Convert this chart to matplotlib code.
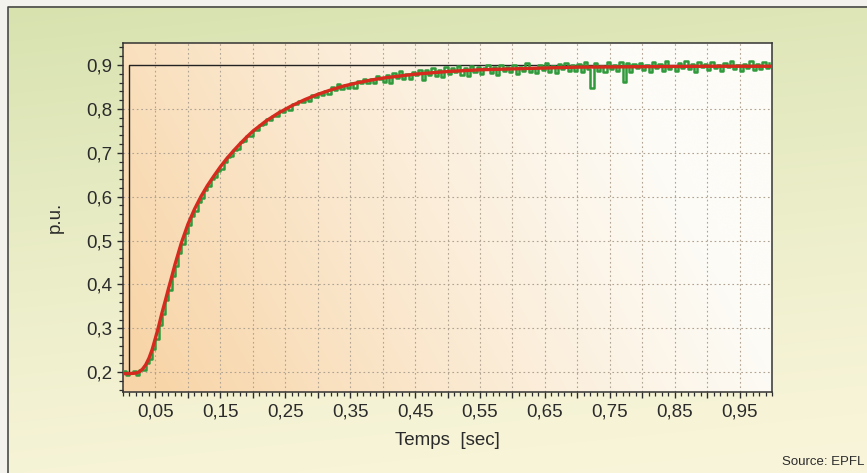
import numpy as np
import matplotlib
matplotlib.use("Agg")
import matplotlib.pyplot as plt
from matplotlib.ticker import MultipleLocator, FixedLocator, FixedFormatter

plt.rcParams["font.family"] = ["Liberation Sans", "DejaVu Sans"]

# --- data ---
# reference step (black)
step_t = [0.0, 0.01, 0.01, 1.0]
step_v = [0.2, 0.2, 0.9, 0.9]

# smoothed response (red)
red_t = [0.0, 0.01, 0.02, 0.025, 0.03, 0.035, 0.04, 0.045, 0.05, 0.055,
         0.06, 0.065, 0.07, 0.075, 0.08, 0.085, 0.09, 0.095, 0.10, 0.11,
         0.12, 0.13, 0.14, 0.15, 0.16, 0.17, 0.18, 0.19, 0.20, 0.22,
         0.24, 0.26, 0.28, 0.30, 0.32, 0.34, 0.36, 0.38, 0.40, 0.45,
         0.50, 0.55, 0.60, 0.65, 0.70, 0.80, 0.90, 1.00]
red_v = [0.197, 0.197, 0.198, 0.201, 0.207, 0.217, 0.232, 0.252, 0.278, 0.305,
         0.335, 0.362, 0.390, 0.417, 0.445, 0.470, 0.495, 0.516, 0.537, 0.571,
         0.600, 0.625, 0.647, 0.668, 0.687, 0.704, 0.720, 0.735, 0.749, 0.772,
         0.791, 0.807, 0.821, 0.833, 0.843, 0.852, 0.859, 0.865, 0.870, 0.879,
         0.885, 0.889, 0.891, 0.893, 0.895, 0.896, 0.897, 0.897]

# measured signal (green), one sample every 5 ms
green_dt = 0.005
green_v = [
    0.202, 0.193, 0.199, 0.203, 0.193, 0.205, 0.205, 0.220, 0.230, 0.254,
    0.275, 0.307, 0.332, 0.365, 0.388, 0.420, 0.443, 0.472, 0.492, 0.518,
    0.535, 0.557, 0.568, 0.587, 0.597, 0.616, 0.624, 0.640, 0.645, 0.659,
    0.664, 0.680, 0.690, 0.693, 0.706, 0.709, 0.724, 0.726, 0.738, 0.739,
    0.752, 0.751, 0.763, 0.765, 0.776, 0.774, 0.783, 0.783, 0.795, 0.793,
    0.802, 0.798, 0.810, 0.810, 0.818, 0.815, 0.823, 0.819, 0.831, 0.827,
    0.837, 0.831, 0.840, 0.834, 0.849, 0.842, 0.856, 0.845, 0.854, 0.848,
    0.860, 0.848, 0.863, 0.858, 0.869, 0.860, 0.868, 0.859, 0.874, 0.867,
    0.861, 0.876, 0.860, 0.881, 0.870, 0.886, 0.869, 0.880, 0.868, 0.884,
    0.877, 0.889, 0.866, 0.888, 0.877, 0.894, 0.875, 0.888, 0.873, 0.895,
    0.879, 0.893, 0.883, 0.898, 0.878, 0.892, 0.875, 0.898, 0.884, 0.896,
    0.879, 0.892, 0.900, 0.882, 0.896, 0.877, 0.899, 0.886, 0.895, 0.884,
    0.900, 0.880, 0.896, 0.886, 0.905, 0.884, 0.894, 0.882, 0.900, 0.889,
    0.904, 0.884, 0.898, 0.882, 0.902, 0.891, 0.904, 0.887, 0.899, 0.886,
    0.902, 0.885, 0.907, 0.890, 0.848, 0.904, 0.887, 0.898, 0.884, 0.906,
    0.890, 0.901, 0.887, 0.907, 0.861, 0.904, 0.885, 0.902, 0.893, 0.905,
    0.888, 0.900, 0.885, 0.906, 0.893, 0.903, 0.887, 0.908, 0.890, 0.898,
    0.887, 0.905, 0.893, 0.908, 0.890, 0.902, 0.885, 0.906, 0.895, 0.903,
    0.888, 0.907, 0.892, 0.900, 0.886, 0.905, 0.895, 0.909, 0.890, 0.901,
    0.887, 0.903, 0.894, 0.908, 0.889, 0.902, 0.891, 0.906, 0.893, 0.904,
]

x_ticks = [0.05, 0.10, 0.15, 0.20, 0.25, 0.30, 0.35, 0.40, 0.45, 0.50,
           0.55, 0.60, 0.65, 0.70, 0.75, 0.80, 0.85, 0.90, 0.95]
x_labels = ["0,05", "", "0,15", "", "0,25", "", "0,35", "", "0,45", "",
            "0,55", "", "0,65", "", "0,75", "", "0,85", "", "0,95"]
y_ticks = [0.2, 0.3, 0.4, 0.5, 0.6, 0.7, 0.8, 0.9]
y_labels = ["0,2", "0,3", "0,4", "0,5", "0,6", "0,7", "0,8", "0,9"]

TXT = "#2b2b2b"

fig = plt.figure(figsize=(8.67, 4.73), dpi=100)
fig.patch.set_facecolor("#f3f2ec")

# page background: green at the top fading to cream
bg = fig.add_axes([0, 0, 1, 1], zorder=-2)
bg.set_xlim(0, 1)
bg.set_ylim(0, 1)
bg.axis("off")
gx, gy = np.meshgrid(np.linspace(0, 1, 200), np.linspace(0, 1, 120))
f = np.clip(0.8 * gy + 0.15 * (1 - gx), 0, 1) ** 1.3
top = np.array([213, 225, 172]) / 255
bot = np.array([249, 245, 218]) / 255
img = bot[None, None, :] * (1 - f[..., None]) + top[None, None, :] * f[..., None]
fx0, fy1 = 8 / 867, 1 - 7 / 473
bg.imshow(img, extent=[fx0, 1, 0, fy1], origin="lower", aspect="auto",
          interpolation="bicubic")
bg.plot([fx0, fx0, 1], [0, fy1, fy1], color="#4a4a4a", lw=1.2)

ax = fig.add_axes([123 / 867, 1 - 392 / 473, 649 / 867, 349 / 473])
ax.set_xlim(0, 1.0)
ax.set_ylim(0.155, 0.95)

# plot area: peach on the left fading to white on the right
ax_x, ax_y = np.meshgrid(np.linspace(0, 1, 200), np.linspace(0, 1, 120))
g = np.clip(1.05 - (1.0 * ax_x + 0.3 * ax_y), 0, 1) ** 1.1
peach = np.array([248, 213, 168]) / 255
white = np.array([253, 252, 247]) / 255
pimg = white[None, None, :] * (1 - g[..., None]) + peach[None, None, :] * g[..., None]
ax.imshow(pimg, extent=[0, 1, 0, 1], transform=ax.transAxes, origin="lower",
          aspect="auto", interpolation="bicubic", zorder=0)

for xv in x_ticks:
    ax.axvline(xv, color="#b0a392", lw=0.8, ls=(0, (1.5, 2.5)), zorder=1)
for yv in y_ticks[:-1]:
    ax.axhline(yv, color="#b0a392", lw=0.8, ls=(0, (1.5, 2.5)), zorder=1)

green_t = np.arange(len(green_v)) * green_dt
ax.plot(green_t, green_v, drawstyle="steps-post", color="#2f9a3c", lw=1.8,
        zorder=3)
ax.plot(red_t, red_v, color="#d62a1e", lw=2.4, zorder=4, solid_capstyle="round")
ax.plot(step_t, step_v, color="#222222", lw=1.0, zorder=2)

ax.xaxis.set_major_locator(FixedLocator(x_ticks))
ax.xaxis.set_major_formatter(FixedFormatter(x_labels))
ax.xaxis.set_minor_locator(MultipleLocator(0.01))
ax.yaxis.set_major_locator(FixedLocator(y_ticks))
ax.yaxis.set_major_formatter(FixedFormatter(y_labels))
ax.yaxis.set_minor_locator(MultipleLocator(0.02))

ax.tick_params(which="major", direction="out", length=4.5, width=1.0,
               color=TXT, labelcolor=TXT, labelsize=13.5, pad=3.5)
ax.tick_params(which="minor", direction="out", length=2.8, width=0.9, color=TXT)
for s in ax.spines.values():
    s.set_color("#333333")
    s.set_linewidth(1.1)

fig.text(447 / 867, 1 - 440 / 473, "Temps  [sec]", ha="center", va="center",
         fontsize=13.5, color=TXT)
fig.text(55 / 867, 1 - 217 / 473, "p.u.", ha="center", va="center",
         rotation=90, fontsize=13.5, color=TXT)
fig.text(864 / 867, 1 - 462 / 473, "Source: EPFL", ha="right", va="center",
         fontsize=9.5, color=TXT)

fig.savefig("out.png", dpi=100)
